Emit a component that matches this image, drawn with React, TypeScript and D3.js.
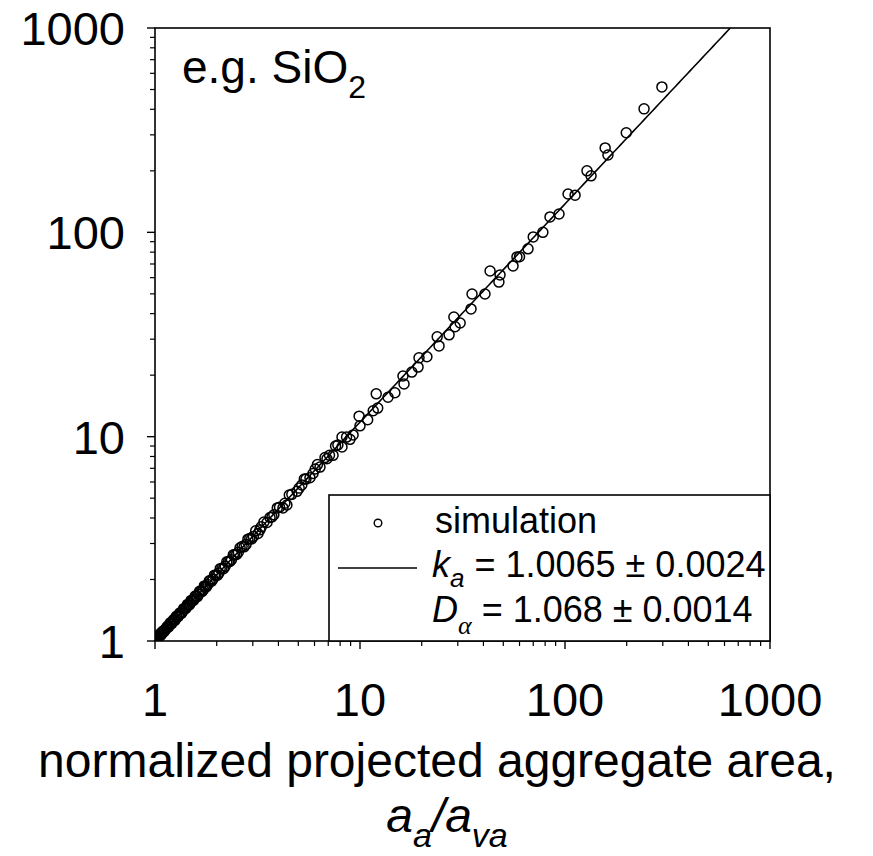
import React from "react";
import * as d3 from "d3";

const xValues = [
  1.0, 1.0, 1.01, 1.02, 1.03, 1.04, 1.05, 1.06, 1.07, 1.08, 1.09, 1.1, 1.12, 1.13, 1.14, 1.16, 1.18, 1.2, 1.22, 1.24,
  1.26, 1.28, 1.31, 1.33, 1.36, 1.39, 1.42, 1.45, 1.48, 1.52, 1.55, 1.59, 1.63, 1.67, 1.72, 1.76, 1.81, 1.86, 1.92, 1.98,
  2.05, 2.12, 2.2, 2.28, 2.36, 2.45, 2.55, 2.66, 2.78, 2.9, 3.02, 3.18, 3.3, 3.52, 3.64, 3.8, 4.05, 4.21, 4.4, 4.65,
  4.93, 5.2, 5.45, 5.7, 6.05, 6.38, 6.75, 7.1, 7.39, 7.8, 8.17, 8.17, 8.6, 8.94, 9.25, 9.9, 10.0, 10.9, 11.6, 12.0,
  12.2, 13.7, 14.8, 16.2, 16.4, 17.9, 19.2, 19.4, 21.2, 23.8, 24.3, 27.2, 28.7, 29.1, 30.8, 34.8, 35.2, 40.7, 43.1, 47.6,
  48.2, 55.8, 58.3, 60, 66, 70, 78, 84.5, 93.5, 103.5, 112, 128, 134, 157, 162, 199, 243, 297,
  1.005, 1.015, 1.025, 1.035, 1.045, 1.055, 1.065, 1.075, 1.085, 1.095, 1.11, 1.15, 1.17, 1.19, 1.21, 1.23, 1.25, 1.27,
  1.3, 1.32, 1.35, 1.38, 1.41, 1.44, 1.47, 1.5, 1.54, 1.57, 1.61, 1.65, 1.7, 1.74, 1.78, 1.84, 1.89, 1.95, 2.02, 2.08,
  2.16, 2.24, 2.32, 2.41, 2.5, 2.6, 2.72, 2.84, 2.96, 3.1, 3.25, 3.4, 3.72, 3.95, 4.3, 4.52, 5.05, 5.35, 5.9, 6.2, 6.9, 7.6,
];
const yValues = [
  1.0, 1.01, 1.02, 1.03, 1.035, 1.05, 1.065, 1.07, 1.08, 1.095, 1.1, 1.12, 1.13, 1.15, 1.16, 1.17, 1.21, 1.22, 1.25, 1.26,
  1.29, 1.31, 1.34, 1.37, 1.39, 1.44, 1.46, 1.5, 1.52, 1.58, 1.6, 1.66, 1.69, 1.75, 1.78, 1.85, 1.89, 1.97, 2.01, 2.1,
  2.15, 2.27, 2.32, 2.44, 2.5, 2.64, 2.72, 2.9, 2.97, 3.17, 3.25, 3.36, 3.62, 3.8, 4.02, 4.15, 4.52, 4.48, 4.63, 5.22,
  5.4, 5.8, 6.2, 6.3, 6.95, 7.1, 7.9, 8.1, 8.1, 9.1, 9.96, 8.9, 9.95, 9.7, 10.2, 12.6, 11.3, 12.1, 13.4, 16.2,
  13.8, 15.6, 16.4, 19.8, 18.1, 20.7, 21.9, 24.3, 24.6, 30.8, 27.8, 31.5, 38.5, 34.5, 36.0, 42.2, 49.9, 49.9, 64.7, 57.1,
  61.9, 68.5, 75.8, 76, 83, 95, 100, 119, 123, 154, 152, 200, 189, 259, 239, 307, 402, 515,
  1.0, 1.035, 1.025, 1.055, 1.045, 1.08, 1.065, 1.1, 1.09, 1.12, 1.115, 1.18, 1.18, 1.23, 1.22, 1.27, 1.26, 1.32,
  1.32, 1.37, 1.37, 1.44, 1.44, 1.51, 1.5, 1.58, 1.58, 1.66, 1.65, 1.75, 1.75, 1.86, 1.84, 1.97, 1.96, 2.1, 2.1, 2.26,
  2.26, 2.44, 2.45, 2.64, 2.65, 2.86, 2.89, 3.15, 3.16, 3.46, 3.5, 3.82, 4.05, 4.48, 4.72, 5.18, 5.6, 6.2, 6.6, 7.3, 7.8, 9.0,
];

const fitK = [1.0065];
const fitD = [1.068];
const tickValues = [1, 10, 100, 1000];
const tickLabels = ["1", "10", "100", "1000"];

const FONT = "'Liberation Sans', Arial, sans-serif";

export default function App() {
  const W = 873;
  const H = 856;
  const left = 155, right = 770, top = 28, bottom = 641;
  const x = d3.scaleLog().domain([1, 1000]).range([left, right]);
  const y = d3.scaleLog().domain([1, 1000]).range([bottom, top]);

  const k = fitK[0];
  const D = fitD[0];
  const xEnd = Math.pow(1000 / k, 1 / D);
  const fitPts = d3.range(0, 201).map((i) => {
    const xv = Math.pow(10, (Math.log10(xEnd) * i) / 200);
    return [xv, k * Math.pow(xv, D)] as [number, number];
  });
  const lineGen = d3
    .line<[number, number]>()
    .x((d) => x(d[0]))
    .y((d) => y(d[1]));

  const minor: number[] = [];
  for (let dec = 1; dec < 1000; dec *= 10) {
    for (let m = 2; m <= 9; m++) minor.push(dec * m);
  }

  const pts = xValues.map((xv, i) => [xv, yValues[i]]);

  return (
    <svg
      width={W}
      height={H}
      style={{ position: "absolute", left: 0, top: 0, background: "#fff" }}
      fontFamily={FONT}
    >
      <rect x={0} y={0} width={W} height={H} fill="#fff" />
      <defs>
        <clipPath id="plotclip">
          <rect x={left} y={top} width={right - left} height={bottom - top} />
        </clipPath>
      </defs>

      {/* frame */}
      <rect x={left} y={top} width={right - left} height={bottom - top} fill="none" stroke="#000" strokeWidth={1.6} />

      {/* x ticks */}
      {tickValues.map((t) => (
        <line key={"xM" + t} x1={x(t)} x2={x(t)} y1={bottom} y2={bottom + 8} stroke="#000" strokeWidth={1.4} />
      ))}
      {minor.map((t) => (
        <line key={"xm" + t} x1={x(t)} x2={x(t)} y1={bottom} y2={bottom + 5} stroke="#000" strokeWidth={1.2} />
      ))}
      {/* y ticks */}
      {tickValues.map((t) => (
        <line key={"yM" + t} x1={left - 8} x2={left} y1={y(t)} y2={y(t)} stroke="#000" strokeWidth={1.4} />
      ))}
      {minor.map((t) => (
        <line key={"ym" + t} x1={left - 5} x2={left} y1={y(t)} y2={y(t)} stroke="#000" strokeWidth={1.2} />
      ))}

      {/* tick labels */}
      {tickValues.map((t, i) => (
        <text key={"xl" + t} x={x(t)} y={716} textAnchor="middle" fontSize={47}>
          {tickLabels[i]}
        </text>
      ))}
      {tickValues.map((t, i) => (
        <text key={"yl" + t} x={125} y={y(t)} dy="0.36em" textAnchor="end" fontSize={47}>
          {tickLabels[i]}
        </text>
      ))}

      {/* axis title */}
      <text x={437} y={777} textAnchor="middle" fontSize={48}>
        normalized projected aggregate area,
      </text>
      <text x={447} y={832} textAnchor="middle" fontSize={48} fontStyle="italic">
        a
        <tspan fontSize={34} dy={15}>a</tspan>
        <tspan fontSize={48} dy={-15}>/a</tspan>
        <tspan fontSize={34} dy={15}>va</tspan>
      </text>

      {/* annotation */}
      <text x={182} y={83} fontSize={46}>
        e.g. SiO
        <tspan fontSize={32} dy={15}>2</tspan>
      </text>

      <g clipPath="url(#plotclip)">
        {/* data */}
        {pts.map((p, i) => (
          <circle key={i} cx={x(p[0])} cy={y(p[1])} r={5} fill="none" stroke="#000" strokeWidth={1.5} />
        ))}
        {/* fit */}
        <path d={lineGen(fitPts) || ""} fill="none" stroke="#000" strokeWidth={1.6} />
      </g>

      {/* legend */}
      <rect x={329} y={495} width={right - 329} height={bottom - 495} fill="#fff" stroke="#000" strokeWidth={1.6} />
      <circle cx={378} cy={523} r={3.8} fill="none" stroke="#000" strokeWidth={1.4} />
      <text x={435} y={533} fontSize={36}>simulation</text>
      <line x1={338} x2={417} y1={568} y2={568} stroke="#000" strokeWidth={1.6} />
      <text x={432} y={577} fontSize={36}>
        <tspan fontStyle="italic">k</tspan>
        <tspan fontStyle="italic" fontSize={26} dy={10}>a</tspan>
        <tspan dy={-10}> = 1.0065 ± 0.0024</tspan>
      </text>
      <text x={432} y={622} fontSize={36}>
        <tspan fontStyle="italic">D</tspan>
        <tspan fontStyle="italic" fontSize={26} dy={12} fontFamily="'Liberation Serif', 'Times New Roman', serif">α</tspan>
        <tspan dy={-12}> = 1.068 ± 0.0014</tspan>
      </text>
    </svg>
  );
}
